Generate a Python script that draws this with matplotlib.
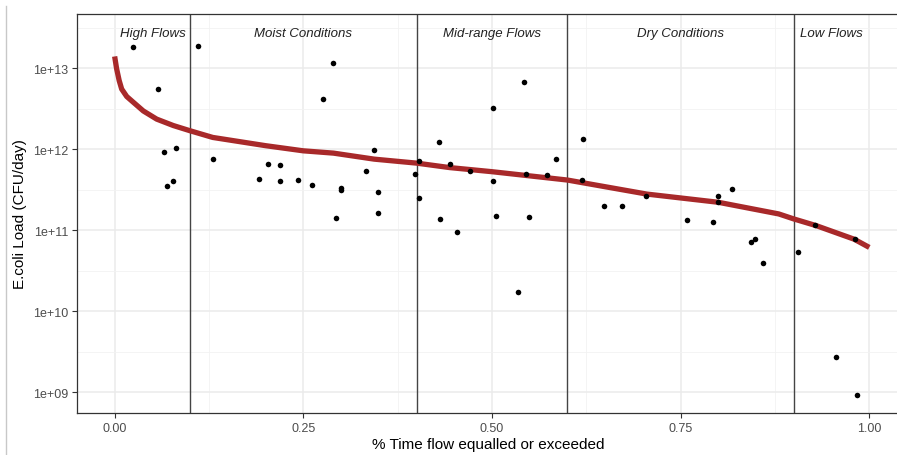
import numpy as np
import matplotlib
matplotlib.use("Agg")
import matplotlib.pyplot as plt
from matplotlib.lines import Line2D
from matplotlib.ticker import FixedLocator, NullFormatter

plt.rcParams['font.family'] = ['Liberation Sans', 'DejaVu Sans']

# observed loads (fraction of time flow equalled/exceeded, CFU/day)
obs_x = [0.0238, 0.0578, 0.0649, 0.0808, 0.0777, 0.0693, 0.110, 0.130,
         0.1917, 0.2028, 0.2187, 0.2187, 0.2434, 0.2619, 0.2760, 0.2889,
         0.2933, 0.2999, 0.2999, 0.3326, 0.344, 0.3494, 0.3494, 0.3984,
         0.4029, 0.4029, 0.4302, 0.4311, 0.444, 0.4536, 0.4705, 0.5017,
         0.5017, 0.5057, 0.534, 0.5424, 0.5451, 0.5495, 0.5733, 0.5844,
         0.6197, 0.621, 0.648, 0.6719, 0.7045, 0.758, 0.7933, 0.799,
         0.799, 0.8185, 0.8437, 0.848, 0.859, 0.906, 0.9284, 0.9555,
         0.9807, 0.9837]
obs_y = [1.83e13, 5.46e12, 9.1e11, 1.04e12, 4.0e11, 3.47e11, 1.88e13, 7.6e11,
         4.27e11, 6.5e11, 6.3e11, 4.0e11, 4.2e11, 3.6e11, 4.14e12, 1.16e13,
         1.39e11, 3.27e11, 3.09e11, 5.3e11, 9.7e11, 2.97e11, 1.62e11, 4.96e11,
         7.1e11, 2.46e11, 1.23e12, 1.36e11, 6.5e11, 9.5e10, 5.4e11, 3.24e12,
         4.03e11, 1.49e11, 1.73e10, 6.7e12, 4.96e11, 1.44e11, 4.8e11, 7.6e11,
         4.14e11, 1.32e12, 1.96e11, 1.96e11, 2.63e11, 1.32e11, 1.27e11, 2.63e11,
         2.2e11, 3.24e11, 7.2e10, 7.8e10, 3.9e10, 5.3e10, 1.15e11, 2.73e9,
         7.8e10, 9.2e8]

# load duration curve
curve_x = [0.0, 0.0026, 0.006, 0.0093, 0.016, 0.0247, 0.038, 0.0557, 0.0777,
           0.1, 0.13, 0.2, 0.25, 0.29, 0.344, 0.4, 0.444, 0.5, 0.6, 0.705,
           0.8, 0.88, 0.9, 0.93, 0.98, 1.0]
curve_y = [1.39e13, 9.8e12, 7.0e12, 5.5e12, 4.45e12, 3.78e12, 2.95e12, 2.34e12,
           1.95e12, 1.68e12, 1.39e12, 1.1e12, 9.5e11, 8.9e11, 7.5e11, 6.7e11,
           5.9e11, 5.25e11, 4.14e11, 2.78e11, 2.2e11, 1.58e11, 1.37e11,
           1.13e11, 7.7e10, 6.1e10]

zone_breaks = [0.1, 0.4, 0.6, 0.9]
zone_labels = ["High Flows", "Moist Conditions", "Mid-range Flows",
               "Dry Conditions", "Low Flows"]
zone_label_x = [0.05, 0.25, 0.5, 0.75, 0.95]

W, H = 897, 456
fig = plt.figure(figsize=(W / 100, H / 100), dpi=100)
# panel from px 77 to ~899 horizontally, 15 to 414 vertically
ax = fig.add_axes([77.3 / W, 1 - 414 / H, (899.1 - 77.3) / W, (414 - 15) / H])

ax.set_yscale('log')
ax.set_xlim(-0.0495, 1.0395)
ax.set_ylim(10 ** 8.741, 10 ** 13.667)

# grid like theme_bw
major_y = [1e9, 1e10, 1e11, 1e12, 1e13]
minor_y = [10 ** 8.5, 10 ** 9.5, 10 ** 10.5, 10 ** 11.5, 10 ** 12.5, 10 ** 13.5]
major_x = [0.0, 0.25, 0.5, 0.75, 1.0]
minor_x = [-0.125, 0.125, 0.375, 0.625, 0.875, 1.125]
ax.yaxis.set_major_locator(FixedLocator(major_y))
ax.yaxis.set_minor_locator(FixedLocator(minor_y))
ax.xaxis.set_major_locator(FixedLocator(major_x))
ax.xaxis.set_minor_locator(FixedLocator(minor_x))
ax.yaxis.set_minor_formatter(NullFormatter())
ax.set_yticklabels(["1e+09", "1e+10", "1e+11", "1e+12", "1e+13"])
ax.set_xticklabels(["0.00", "0.25", "0.50", "0.75", "1.00"])
ax.grid(which='major', color='#EBEBEB', linewidth=1.1)
ax.grid(which='minor', color='#F2F2F2', linewidth=0.6)
ax.set_axisbelow(True)
ax.tick_params(which='minor', length=0)
ax.tick_params(which='major', length=3.5, width=0.8, color='#333333',
               labelsize=9, labelcolor='#4D4D4D', pad=3)
for s in ax.spines.values():
    s.set_color('#333333')
    s.set_linewidth(0.9)

for b in zone_breaks:
    ax.axvline(b, color='#444444', linewidth=1.0, zorder=2)

ax.plot(curve_x, curve_y, color='#A8292A', linewidth=3.8,
        solid_capstyle='butt', solid_joinstyle='round', zorder=3)
ax.scatter(obs_x, obs_y, s=16, color='black', zorder=4, linewidths=0)

for lab, lx in zip(zone_labels, zone_label_x):
    ax.text(lx, 2.7e13, lab, ha='center', va='center', fontsize=9.5,
            style='italic', color='#222222', zorder=5)

ax.set_xlabel("% Time flow equalled or exceeded", fontsize=11, labelpad=2)
ax.set_ylabel("E.coli Load (CFU/day)", fontsize=11, labelpad=4)

# faint frame line at the left of the image
fig.add_artist(Line2D([5.5 / W, 5.5 / W], [0, 1 - 7 / H],
                      color='#C8C8C8', linewidth=1.0))

fig.savefig("out.png", dpi=100)
